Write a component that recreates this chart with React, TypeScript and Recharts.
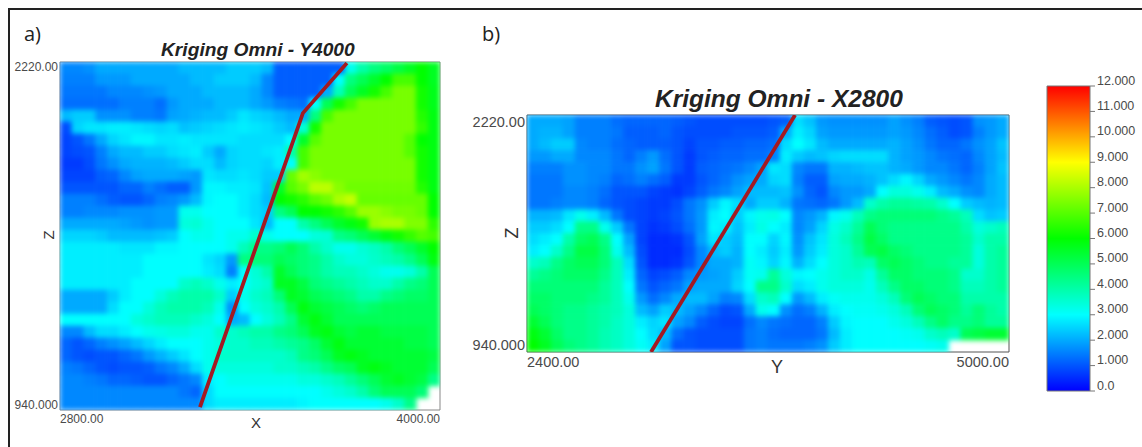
import React from "react";
import { ScatterChart, Scatter, XAxis, YAxis, ReferenceArea, BarChart, Bar } from "recharts";

const panelATitle = "Kriging Omni - Y4000";
const panelBTitle = "Kriging Omni - X2800";
const panelAXTicks = [2800, 4000];
const panelAXLabels = ["2800.00", "4000.00"];
const panelBXTicks = [2400, 5000];
const panelBXLabels = ["2400.00", "5000.00"];
const zTicks = [940, 2220];
const zLabels = ["940.000", "2220.00"];
const scaleTicks = [0, 1, 2, 3, 4, 5, 6, 7, 8, 9, 10, 11, 12];
const scaleLabels = ["0.0", "1.000", "2.000", "3.000", "4.000", "5.000", "6.000", "7.000", "8.000", "9.000", "10.000", "11.000", "12.000"];
const scaleData = [{ band: "grade", top: 12 }];
const faultA = [{ x: 3242, z: 951 }, { x: 3567, z: 2032 }, { x: 3706, z: 2216 }];
const faultB = [{ x: 3069, z: 940 }, { x: 3846, z: 2220 }];

const gridA: (number | null)[][] = [
[1.6,1.6,1.7,2,2,2,2,2,2,2,2.2,2.2,2.2,2.2,2.4,2.4,2.4,2.2,1.1,1.1,1.1,1.1,1.1,1.1,3.2,4,4.5,4.8,5.2,5.6,6,5.6],
[1.5,1.5,1.5,1.8,1.8,1.8,2,2,2,2,2,2.2,2.2,2.4,2.4,2.4,2.2,1.6,1.1,1.1,1.1,1.1,1.1,3,4.5,5,5.5,6,6.8,6.8,6,5.6],
[1.4,1.4,1.4,1.4,1.6,1.6,1.6,1.7,1.8,2,2,2,2.2,2.2,2.2,2.2,2,1.6,1.1,1.1,1.1,1.1,2,3.8,5,5.6,6.2,6.8,7.4,7.4,6.2,5.7],
[1.3,1.3,1.3,1.3,1.3,1.5,1.5,1.5,1.3,1.8,2,2,2,2.2,2.2,2.2,2,1.8,1.5,1.4,1.3,3,5,6.2,6.8,7.4,7.4,7.4,7.4,7.4,6.2,5.7],
[2.2,2.4,2.4,1.7,1.7,1.7,1.5,1.5,1.4,1.9,2,2.1,2.2,2.2,2.4,2.7,2.5,2.4,2.2,2,2,4.5,6.8,7.4,7.4,7.4,7.4,7.4,7.4,7.4,6.4,5.8],
[0.9,2.5,2.7,2.7,2.8,2.8,2.7,2.6,2.5,2.6,2.3,2.4,2.5,2.6,2.7,2.8,2.7,2.6,2.4,2.2,3.5,6.2,7.4,7.4,7.4,7.4,7.4,7.4,7.4,7.4,6.6,5.8],
[0.8,1,1.4,2,2.5,2.7,2.9,2.9,2.7,2.7,2.8,2.7,2.7,2.7,2.7,2.6,2.6,2.6,2.6,3,5.5,7,7.4,7.4,7.4,7.4,7.4,7.4,7.4,7,6,5.8],
[0.8,0.9,1,1.5,2,2.2,2.2,2.4,2.4,2.6,2.7,2.8,2.4,2,2.5,2.6,2.6,2.7,2.8,4,6.8,7.4,7.4,7.4,7.4,7.4,7.4,7.4,7.4,7,6.2,5.8],
[0.7,0.7,0.9,1.4,1.7,2,2.1,2.1,2.1,2.2,2.4,2.6,2.6,2.2,2.5,2.6,2.6,2.5,2.8,3,6.8,7.4,7.4,7.4,7.4,7.4,7.4,7.4,7.4,7.4,6.2,5.8],
[0.8,0.8,0.8,1.1,1.2,1.6,1.9,2,2,2,1.9,1.8,2.7,2.6,2.6,2.7,2.6,2.4,2.4,7.2,7.9,7.6,7.4,7.4,7.4,7.4,7.4,7.4,7.4,7.4,6.2,5.8],
[1,1,1,1,1,1.2,1.2,1.5,1.3,1.1,1.1,1.8,2.9,2.9,2.8,2.8,2.7,2.3,5.5,7,7.4,8.2,8.2,7.6,7.3,7.3,7.3,7.3,7.3,7.3,6.4,5.8],
[1.5,1.5,1.5,1.3,1.1,1,1,1.2,1.5,1.6,1.8,2.2,2.9,3,3,2.8,2.6,2.2,6,6.2,6.5,7,7.3,8,8.3,7.2,7.2,7.2,7.2,7.2,7.2,6],
[1.5,1.5,1.6,1.6,1.6,1.7,1.7,1.7,1.8,1.8,3.2,3.2,3,3,3,2.8,2.6,2.4,4.5,5,6,6,6.2,6.5,7,7.8,7.8,7.6,7.4,7.4,7.2,6],
[2,2,2,2,2,1.9,1.8,1.7,1.8,1.8,3.4,3.5,3.2,3,3,3,2.7,2.2,3,3,4,4.5,5,5.5,5.8,6.2,7.8,8,8,7.5,7.5,6.5],
[2.5,2.5,2.5,2.4,2.2,2.2,2.2,2.2,2.3,2.4,3,3.2,3.2,3,3.2,3.2,3.6,3.2,3,3,3,3.4,3.5,4.4,4.6,5,5.4,5.8,6.2,6.6,7,6.8],
[2.8,2.8,2.8,2.8,2.8,2.7,2.7,2.7,2.9,2.9,3,3,3,3,3.2,3.8,4.4,4.4,4.6,5,4.6,4,3.6,3.2,3.2,3.5,3.7,4,4.6,5,5.5,6],
[2.8,2.8,2.8,2.8,2.8,2.8,2.8,3,3,3,3,3,2.7,2.5,1.8,4.5,4.6,4.6,5,4.8,4.6,4.4,4,3.6,3.4,3.4,3.6,3.8,4,4.4,5,5.8],
[2.8,2.8,2.8,2.8,2.8,2.8,2.8,3,3,3,3,3,2.8,2.6,1.5,3,3.5,4,5.5,5,4.6,4.4,4,3.8,3.8,3.6,3.4,3.2,3.2,3.4,4,5],
[2.8,2.8,2.8,2.8,2.8,2.8,3,3,3,3,3.6,3.8,3.6,3.2,2.8,3,3.4,3.6,5.6,5.6,5.2,4.6,4.4,4.2,4,3.8,3.6,3.6,4,4.4,4.6,5],
[2,2,2,2,2.4,2.8,3,3,3.4,3.8,4,4,4,3.6,2.4,3.2,3.6,3.8,4.6,5.6,5.4,5,4.8,4.6,4.4,4,4,4.4,4.6,4.8,4.8,5],
[2,2,2,2,2.6,3,3,3.4,3.8,4,4,4,3.8,3.2,1.7,3,3.4,3.6,4,5,5.8,5.4,5.2,5,4.8,4.6,4.8,5,5,5,5,5],
[3,3,3,3,3,3,3.4,3.6,3.8,3.8,3.8,3.6,3.4,3,2,2.2,3,3.4,3.8,4.4,5.4,5.8,5.4,5,5,5,5,5,5,5,5,5],
[1.6,1.6,2.2,2.6,2.6,2.8,3,3.2,3.3,3.4,3.4,3.2,3.2,3.6,3.6,3.8,4,4,4.4,4.6,5,5.6,5.8,5.4,5.2,5.4,5.4,5.2,5.2,5.2,5.2,5],
[1.2,1,1.2,1.5,1.7,1.9,2.2,2.5,2.8,3,3,3,3.2,3.4,3.6,3.6,3.8,3.8,4,4.2,4.4,4.8,5.4,5.8,5.4,5.4,5.4,5.4,5.4,5.2,5.2,5],
[1.2,1,0.9,1,1,1.2,1.4,1.8,2.1,2.4,2.7,3,3.2,3.6,3.6,3.6,3.6,3.6,3.6,3.8,4.4,4.6,5,5.6,5.8,5.6,5.4,5.4,5.4,5.4,5.4,5.2],
[1.5,1.4,1.2,1,0.9,1,1,1.1,1.4,1.6,2,2.6,3.2,3.4,3.4,3.4,3.4,3.4,3.6,3.6,3.8,4,4.4,4.8,5,5.6,5.8,5.6,5.4,5.4,5.4,5],
[1.6,1.6,1.5,1.4,1.2,1.2,1.1,1,1,1.2,1.4,1.6,2.8,3,3.2,3.2,3.2,3.2,3.2,3.2,3.4,3.4,3.6,3.8,4.2,4.6,5,5.4,5.6,5.4,5.2,4.4],
[1.6,1.6,1.6,1.6,1.6,1.6,1.6,1.6,1.6,1.6,1.4,1.2,2.6,3,3,3,3,3,3,3,3,3,3.2,3.4,3.6,4,4.6,5,5,5,4.6,null],
[1.6,1.6,1.6,1.6,1.6,1.6,1.6,1.6,1.6,1.6,1.6,1.6,2.6,2.8,2.8,2.8,2.8,2.8,2.8,2.8,2.9,3,3,3,3,3,3,3.2,3.6,4.4,null,null],
];

const gridB: (number | null)[][] = [
[2,2,2,1.9,1.5,1.5,1.5,1.3,1.2,1.2,1.2,1.2,1.1,1,0.9,0.9,0.9,0.9,0.9,0.9,1,1.1,2.6,2.3,1.8,1.7,1.7,1.7,1.7,1.7,1.9,1.7,1.5,1.1,1,0.9,1,1.7,1.8,2],
[2,2.1,2.1,1.9,1.5,1.5,1.5,1.4,1.1,1.1,1.1,1.2,1,0.9,0.9,0.9,0.9,1,1,1,1.1,2,2.8,2.5,1.9,1.8,1.8,1.8,1.8,1.8,1.9,1.8,1.6,1.3,1.1,0.9,1,1.5,1.8,2],
[2,2.2,2.4,2.4,1.6,1.5,1.5,1.3,1.2,1.1,1.1,1.1,1,0.8,1,1,1.1,1.1,1.2,1.2,1.3,2.6,3,2.7,2.2,2,2,2,2,2,2.1,1.9,1.7,1.4,1.2,1.2,1.4,1.7,1.9,2.3],
[1.8,1.8,2,2,1.6,1.6,1.6,1.4,1.2,1.5,1.8,1.3,1,0.7,1,1.1,1.2,1.2,1.3,1.3,1.5,2.8,2.4,2.2,2.3,2.5,2.6,2.6,2.6,2.6,2.1,1.9,1.8,1.6,1.4,1.3,1.2,1.6,1.9,2.2],
[1.5,1.5,1.5,1.7,1.7,1.6,1.6,1.4,1.4,1.7,1.9,1.4,1,0.7,1.1,1.2,1.3,1.4,1.6,1.9,2.7,2.6,1.6,1.4,1.4,2.1,2.1,2.2,2.3,2.3,2.1,2,1.8,1.6,1.6,1.4,1.2,1.5,1.9,2.3],
[1.4,1.4,1.4,1.7,1.7,1.6,1.5,1.2,1.3,1.5,1.3,1.1,0.7,0.7,1,1.2,1.4,1.7,1.9,2,2.5,2.6,1.5,1.1,1.1,1.9,2,2,2.1,2.3,2.6,2.9,2.5,2,1.8,1.6,1.4,1.6,2,2.2],
[1.4,1.4,1.4,1.6,1.6,1.5,1.3,1,1,1,0.8,0.7,0.6,0.8,1.1,1.4,1.6,1.9,2.2,2.2,2.2,2.3,1.7,1.2,1,1.6,1.8,1.8,2,3,3.4,3.4,3.2,2.8,2.2,2,1.7,1.6,2,2.2],
[1.4,1.4,1.5,1.6,1.6,1.5,1.2,1,0.9,0.8,0.7,0.7,0.9,1.4,1.7,2.4,2.9,2.6,2,2.4,2.4,2.1,1.4,1.3,1.2,1.4,1.8,2.2,3.6,4,4.2,4.2,4.1,4,3.6,3,2.4,2.2,2.1,2.2],
[2.1,2.1,2.2,2.7,3.2,2.8,2.2,1.4,0.9,0.8,0.7,0.8,1,1.4,1.8,2.8,3,2.4,2.9,3.2,3.3,3,1.6,1.8,2.1,2.9,3.2,3.8,4.4,4.6,4.6,4.6,4.6,4.6,4.4,4.2,3.8,2.6,2.3,2.4],
[2.4,2.4,2.6,3,4.4,4.4,3.2,2.4,1.4,0.8,0.6,0.7,0.9,1.3,1.8,2.9,2.8,2.3,2.8,3.3,3,2.8,1.6,1.9,2.5,3.3,3.6,4.2,5,4.6,4.4,4.4,4.4,4.4,4.4,4.4,4,3.4,3.6,3.8],
[2.6,2.8,3,4,4.8,5,4.4,3,1.9,0.8,0.5,0.5,0.6,1,1.9,2.7,2.4,2.2,3,3,2.5,2.9,1.7,2.3,2.7,3.4,3.8,4.4,5.2,4.8,4.4,4.4,4.4,4.4,4.4,4.4,4.2,3.6,4,4],
[2.8,3,3.6,4.4,5.2,5.2,4.6,3.2,2.2,0.9,0.5,0.5,0.5,0.9,1.6,2.2,2.4,2.1,3,2.8,2.4,2.8,1.8,2.4,2.8,3.4,3.6,4.2,5,5.2,4.8,4.6,4.4,4.4,4.4,4.4,4.2,3.4,4,4.2],
[3.6,3.8,4.4,4.8,5,5,4.6,3.8,2.6,1,0.5,0.5,0.6,1,1.6,2,2,2.1,3.1,2.9,2.5,2.9,2.1,2.6,3,3.4,3.6,3.9,3.8,4.8,5,4.8,4.6,4.4,4.4,4.2,4.2,3.4,4,4.2],
[4.2,4.4,4.6,4.8,4.8,4.8,4.4,3.8,2.8,1.2,0.8,0.9,1.1,1.6,1.8,1.9,2,2.4,3.1,3.2,4.2,3.4,2.9,3,3.2,3.4,3.6,3.6,3.3,4.2,4.8,4.8,4.6,4.6,4.6,4.4,3.6,3.6,4,4.2],
[4.6,4.6,4.6,4.6,4.6,4.6,4.2,3.8,3,1.4,1,1.2,1.4,1.9,2,2,2,2.5,3,4.4,4.4,3.6,2.6,2.8,3.2,3.4,3.4,3.4,3.2,3.8,4.4,4.8,4.8,4.6,4.6,4.4,3.8,3.8,4,4.2],
[4.8,4.8,4.6,4.6,4.6,4.4,4.2,3.8,3.2,1.8,1.3,1.6,2,2.2,2.2,1.9,1.5,1.6,2.6,3.6,3.8,3,1.8,2.2,2.8,3.1,3.2,3.2,3.2,3.4,3.8,4.6,5,4.8,4.6,4.6,4,4,4,4],
[5,4.8,4.6,4.4,4.4,4.2,4,3.8,3.4,2.2,1.9,2.4,2.2,1.9,1.6,1.2,0.9,1,2,3.2,3,1.7,1.3,1.5,2.1,2.8,3,3.1,3.1,3.2,3.4,3.8,4.6,5,4.8,4.6,4.2,4.6,4.2,4],
[5.4,5,4.6,4.4,4.4,4.2,4,3.7,3.4,2.8,2.5,2.7,1.9,1.6,1.1,0.9,0.8,0.8,1.3,1.6,1.4,1.3,1.2,1.2,1.5,2.4,2.9,3,3,3,3.2,3.4,3.8,4.4,4.8,4.4,4.4,4.6,4.2,4.2],
[5.8,5.4,4.8,4.4,4.4,4.2,3.9,3.7,3.4,3,2.6,2.2,1.3,1,0.9,0.9,0.9,0.9,1.4,1.5,1.3,1.2,1.2,1.2,1.4,2.2,2.8,3,3,3,3,3.1,3.2,3.6,3.8,3.6,5,5.2,5.4,5.4],
[6,5.6,5,4.6,4.4,4.2,3.9,3.7,3.4,3.1,2.8,1.9,1,1,0.9,0.9,0.9,0.9,1.4,1.5,1.4,1.4,1.4,1.5,1.7,2.4,2.8,3,3,3,3,3,3,3.1,3.2,null,null,null,null,null],
];

const zMin = 940;
const zMax = 2220;

const colorOf = (v: number) => {
  const stops = [[0, 0, 0, 255], [3, 0, 255, 255], [6, 0, 255, 0], [9, 255, 255, 0], [12, 255, 0, 0]];
  const i = Math.min(3, Math.floor(v / 3));
  const a = stops[i];
  const b = stops[i + 1];
  const t = (v - a[0]) / 3;
  const c = [1, 2, 3].map((k) => Math.round(a[k] + (b[k] - a[k]) * t));
  return `rgb(${c[0]},${c[1]},${c[2]})`;
};

const toCells = (grid: (number | null)[][], xMin: number, xMax: number) => {
  const out: { x: number; z: number; v: number }[] = [];
  grid.forEach((row, r) =>
    row.forEach((v, c) => {
      if (v === null) return;
      out.push({
        x: xMin + ((c + 0.5) * (xMax - xMin)) / row.length,
        z: zMax - ((r + 0.5) * (zMax - zMin)) / grid.length,
        v,
      });
    })
  );
  return out;
};

const cellShape = (w: number, h: number) => (p: any) =>
  <rect x={p.cx - w / 2 - 0.3} y={p.cy - h / 2 - 0.3} width={w + 0.6} height={h + 0.6} fill={colorOf(p.payload.v)} />;

const noDot = () => <g />;
const textGray = "#4a4a4a";
const sans = "'Liberation Sans', Arial, sans-serif";

function HeatPanel(props: {
  grid: (number | null)[][]; xMin: number; xMax: number; xTicks: number[]; xLabels: string[];
  fault: { x: number; z: number }[]; left: number; top: number; plotW: number; plotH: number;
  chartLeft: number; chartW: number; fs: number; labelFs: number; axisName: string;
  xName: [number, number]; zName: [number, number]; border: string; xTickDy: number; zTickIn: number;
}) {
  const { grid, xMin, xMax, xTicks, xLabels, fault, left, top, plotW, plotH, chartLeft, chartW, fs, labelFs, axisName, xName, zName, border, xTickDy, zTickIn } = props;
  const cols = grid[0].length;
  const cw = plotW / cols;
  const ch = plotH / grid.length;
  const marginRight = chartW - (left - chartLeft) - plotW;
  const chartH = 447;
  const XTick = (p: any) => {
    const first = p.payload.value === xMin;
    return (
      <text x={p.x} y={top + plotH + xTickDy} fontSize={fs} fontFamily={sans} fill={textGray} textAnchor={first ? "start" : "end"}>
        {xLabels[xTicks.indexOf(p.payload.value)]}
      </text>
    );
  };
  const ZTick = (p: any) => {
    const low = p.payload.value === zMin;
    return (
      <text x={left - chartLeft - 2} y={p.y + (low ? -zTickIn + fs * 0.35 : zTickIn + fs * 0.35)} fontSize={fs} fontFamily={sans} fill={textGray} textAnchor="end">
        {zLabels[zTicks.indexOf(p.payload.value)]}
      </text>
    );
  };
  return (
    <div style={{ position: "absolute", left: chartLeft, top: 0 }}>
      <ScatterChart width={chartW} height={chartH} margin={{ left: 0, top, right: marginRight, bottom: 0 }}>
        <XAxis
          type="number" dataKey="x" domain={[xMin, xMax]} ticks={xTicks} tick={XTick} tickLine={false} axisLine={false}
          height={chartH - top - plotH} interval={0} allowDataOverflow
          label={(lp: any) => (
            <text x={xName[0] - chartLeft} y={xName[1]} fontSize={labelFs} fontFamily={sans} fill="#333" textAnchor="middle" dominantBaseline="central">{axisName}</text>
          )}
        />
        <YAxis
          type="number" dataKey="z" domain={[zMin, zMax]} ticks={zTicks} tick={ZTick} tickLine={false} axisLine={false}
          width={left - chartLeft} interval={0} allowDataOverflow
          label={(lp: any) => (
            <text x={zName[0] - chartLeft} y={zName[1]} fontSize={labelFs} fontFamily={sans} fill="#333" textAnchor="middle" dominantBaseline="central" transform={`rotate(-90 ${zName[0] - chartLeft} ${zName[1]})`}>Z</text>
          )}
        />
        <Scatter className="heat-cells" data={toCells(grid, xMin, xMax)} shape={cellShape(cw, ch)} isAnimationActive={false} />
        <ReferenceArea x1={xMin} x2={xMax} y1={zMin} y2={zMax} fill="none" stroke={border} strokeWidth={1} ifOverflow="visible" />
        <Scatter data={fault} dataKey="z" shape={noDot} line={{ stroke: "#a31a22", strokeWidth: 3.8 }} isAnimationActive={false} />
      </ScatterChart>
    </div>
  );
}

function ColorScale() {
  const ScaleTick = (p: any) => (
    <g>
      <line x1={47 + 43} x2={47 + 43 + 5} y1={p.y} y2={p.y} stroke="#777" strokeWidth={1} />
      <text x={97} y={p.y - 1.5} fontSize={12.5} fontFamily={sans} fill={textGray}>{scaleLabels[scaleTicks.indexOf(p.payload.value)]}</text>
    </g>
  );
  return (
    <div style={{ position: "absolute", left: 1000, top: 0 }}>
      <BarChart width={142} height={447} data={scaleData} margin={{ left: 47, right: 0, top: 86, bottom: 56 }} barCategoryGap={0}>
        <defs>
          <linearGradient id="gradeScale" x1="0" y1="0" x2="0" y2="1">
            <stop offset="0" stopColor="#ff0000" />
            <stop offset="0.25" stopColor="#ffff00" />
            <stop offset="0.5" stopColor="#00ff00" />
            <stop offset="0.75" stopColor="#00ffff" />
            <stop offset="1" stopColor="#0000ff" />
          </linearGradient>
        </defs>
        <XAxis dataKey="band" hide />
        <YAxis orientation="right" type="number" domain={[0, 12]} ticks={scaleTicks} interval={0} width={52} tick={ScaleTick} tickLine={false} axisLine={false} />
        <Bar dataKey="top" fill="url(#gradeScale)" stroke="#777" strokeWidth={1} isAnimationActive={false} />
      </BarChart>
    </div>
  );
}

const abs = (left: number, top: number, style: React.CSSProperties, text: string) => (
  <div style={{ position: "absolute", left, top, whiteSpace: "nowrap", lineHeight: 1, ...style }}>{text}</div>
);

export default function App() {
  const titleStyle = { fontFamily: sans, fontWeight: 700, fontStyle: "italic", color: "#222" } as React.CSSProperties;
  const panelLabel = { fontFamily: "'Open Sans', sans-serif", fontSize: 20, color: "#222" } as React.CSSProperties;
  return (
    <div style={{ position: "absolute", left: 0, top: 0, width: 1142, height: 447, background: "#fff", overflow: "hidden" }}>
      <style>{`.heat-cells, .recharts-scatter.heat-cells{filter:blur(2.4px);clip-path:inset(0)}`}</style>
      <HeatPanel grid={gridA} xMin={2800} xMax={4000} xTicks={panelAXTicks} xLabels={panelAXLabels} fault={faultA}
        left={60} top={62} plotW={380} plotH={348} chartLeft={0} chartW={460} fs={12} labelFs={15} axisName="X"
        xName={[256, 422]} zName={[48, 235]} border="#888" xTickDy={13} zTickIn={5} />
      <HeatPanel grid={gridB} xMin={2400} xMax={5000} xTicks={panelBXTicks} xLabels={panelBXLabels} fault={faultB}
        left={527} top={115} plotW={482} plotH={237} chartLeft={460} chartW={560} fs={14.5} labelFs={18} axisName="Y"
        xName={[777, 367]} zName={[512, 233]} border="#555" xTickDy={15} zTickIn={7} />
      <ColorScale />
      {abs(161, 40, { ...titleStyle, fontSize: 19.2 }, panelATitle)}
      {abs(655, 87, { ...titleStyle, fontSize: 24.5 }, panelBTitle)}
      {abs(24, 24, panelLabel, "a)")}
      {abs(482, 24, panelLabel, "b)")}
      <div style={{ position: "absolute", left: 8, top: 8, width: 1134, height: 439, borderTop: "2px solid #222", borderLeft: "2px solid #222", boxSizing: "border-box" }} />
    </div>
  );
}
